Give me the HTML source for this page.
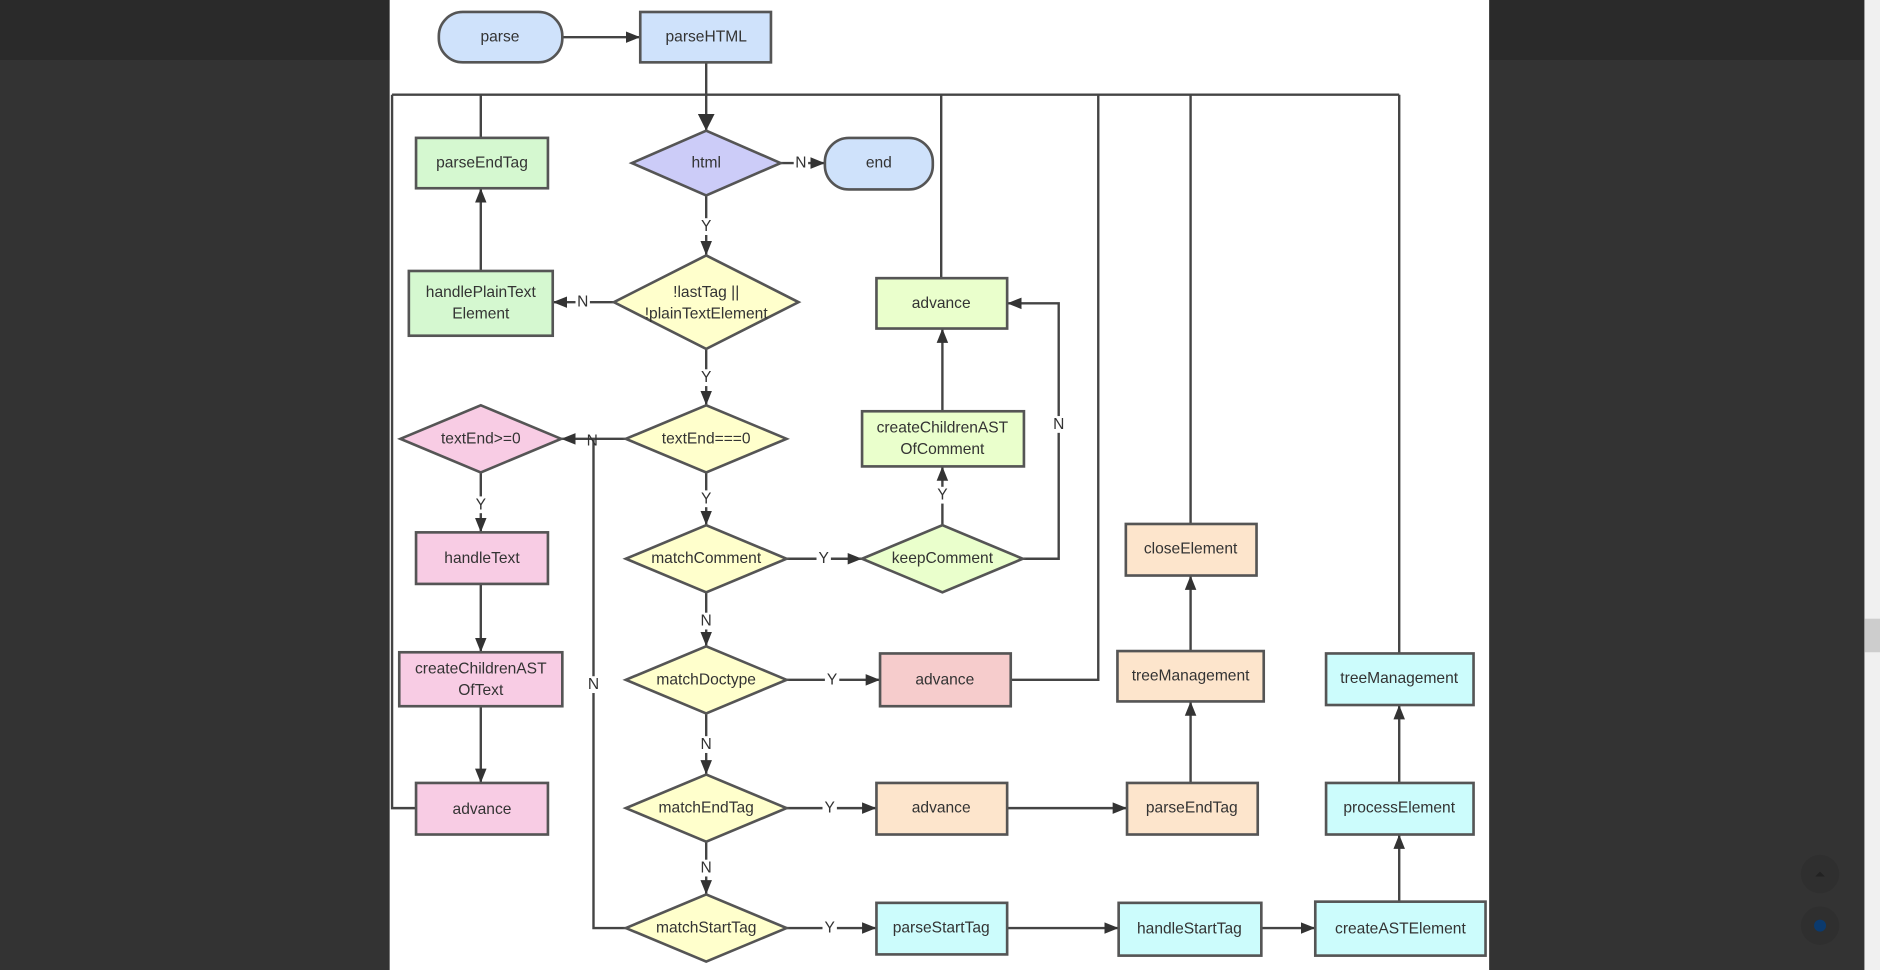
<!DOCTYPE html>
<html><head><meta charset="utf-8"><style>
html,body{margin:0;padding:0;background:#333;width:1880px;height:970px;overflow:hidden}
svg{display:block}
text{font-family:"Liberation Sans",Arial,sans-serif;font-size:13px;fill:#333;text-anchor:middle;dominant-baseline:central}
.n{stroke:#555;stroke-width:2.2}
.l{stroke:#444;stroke-width:2;fill:none}
</style></head><body>
<svg width="1880" height="970" viewBox="0 0 1568 809" preserveAspectRatio="none">
<defs><marker id="a" viewBox="0 0 10 10" refX="10" refY="5" markerWidth="12" markerHeight="12" markerUnits="userSpaceOnUse" orient="auto"><path d="M0,1L10,5L0,9z" fill="#333"/></marker>
<marker id="b" viewBox="0 0 10 10" refX="10" refY="5" markerWidth="14" markerHeight="14" markerUnits="userSpaceOnUse" orient="auto"><path d="M0,0L10,5L0,10z" fill="#333"/></marker></defs>
<rect x="0" y="0" width="1568" height="809" fill="#333"/>
<rect x="0" y="0" width="325" height="50" fill="#2a2a2a"/>
<rect x="1242" y="0" width="313" height="50" fill="#2a2a2a"/>
<rect x="1555" y="0" width="13" height="809" fill="#f0f0f0"/>
<rect x="1555" y="516" width="13" height="28" fill="#cdcdcd"/>
<circle cx="1518" cy="729" r="16" fill="#2f2f2f"/><path d="M1514,731l4,-4l4,4z" fill="#222"/>
<circle cx="1518" cy="772" r="16" fill="#2f2f2f"/><circle cx="1518" cy="772" r="5" fill="#0b3a6e"/>
<rect x="325" y="0" width="917" height="809" fill="#fff"/>

<g class="l">
<path d="M469,31H534" marker-end="url(#a)"/>
<path d="M589,52V109" marker-end="url(#b)"/>
<path d="M327,79H1167"/>
<path d="M401,115V79"/>
<path d="M785,232V79"/>
<path d="M843,567H916V79"/>
<path d="M993,437V79"/>
<path d="M1167,545V79"/>
<path d="M347,674H327V79"/>
<path d="M651,136H688" marker-end="url(#a)"/>
<path d="M589,163V213" marker-end="url(#a)"/>
<path d="M512,252H461" marker-end="url(#a)"/>
<path d="M401,226V157" marker-end="url(#a)"/>
<path d="M589,291V338" marker-end="url(#a)"/>
<path d="M522,366H468" marker-end="url(#a)"/>
<path d="M522,774H495V366"/>
<path d="M401,394V444" marker-end="url(#a)"/>
<path d="M401,487V544" marker-end="url(#a)"/>
<path d="M401,589V653" marker-end="url(#a)"/>
<path d="M589,394V438" marker-end="url(#a)"/>
<path d="M656,466H719" marker-end="url(#a)"/>
<path d="M786,438V389" marker-end="url(#a)"/>
<path d="M786,343V274" marker-end="url(#a)"/>
<path d="M853,466H883V253H840" marker-end="url(#a)"/>
<path d="M589,494V539" marker-end="url(#a)"/>
<path d="M656,567H734" marker-end="url(#a)"/>
<path d="M589,595V646" marker-end="url(#a)"/>
<path d="M656,674H731" marker-end="url(#a)"/>
<path d="M840,674H940" marker-end="url(#a)"/>
<path d="M993,653V585" marker-end="url(#a)"/>
<path d="M993,543V480" marker-end="url(#a)"/>
<path d="M589,702V746" marker-end="url(#a)"/>
<path d="M656,774H731" marker-end="url(#a)"/>
<path d="M840,774H933" marker-end="url(#a)"/>
<path d="M1052,774H1097" marker-end="url(#a)"/>
<path d="M1167,752V696" marker-end="url(#a)"/>
<path d="M1167,653V588" marker-end="url(#a)"/>
</g>
<g>
<rect x="662" y="129" width="12" height="14" fill="#fff"/><text x="668" y="136">N</text>
<rect x="583" y="182" width="12" height="14" fill="#fff"/><text x="589" y="189">Y</text>
<rect x="480" y="245" width="12" height="14" fill="#fff"/><text x="486" y="252">N</text>
<rect x="583" y="308" width="12" height="14" fill="#fff"/><text x="589" y="315">Y</text>
<text x="494" y="368">N</text>
<rect x="395" y="414" width="12" height="14" fill="#fff"/><text x="401" y="421">Y</text>
<rect x="583" y="409" width="12" height="14" fill="#fff"/><text x="589" y="416">Y</text>
<rect x="681" y="459" width="12" height="14" fill="#fff"/><text x="687" y="466">Y</text>
<rect x="780" y="406" width="12" height="14" fill="#fff"/><text x="786" y="413">Y</text>
<rect x="877" y="347" width="12" height="14" fill="#fff"/><text x="883" y="354">N</text>
<rect x="583" y="511" width="12" height="14" fill="#fff"/><text x="589" y="518">N</text>
<rect x="688" y="560" width="12" height="14" fill="#fff"/><text x="694" y="567">Y</text>
<rect x="489" y="564" width="12" height="14" fill="#fff"/><text x="495" y="571">N</text>
<rect x="583" y="614" width="12" height="14" fill="#fff"/><text x="589" y="621">N</text>
<rect x="686" y="667" width="12" height="14" fill="#fff"/><text x="692" y="674">Y</text>
<rect x="583" y="717" width="12" height="14" fill="#fff"/><text x="589" y="724">N</text>
<rect x="686" y="767" width="12" height="14" fill="#fff"/><text x="692" y="774">Y</text>
</g>
<g class="n">
<rect x="366" y="10" width="103" height="42" rx="20" fill="#cfe2fb"/>
<rect x="534" y="10" width="109" height="42" fill="#cfe2fb"/>
<path d="M527,136L589,109L651,136L589,163z" fill="#ccccf8"/>
<rect x="688" y="115" width="90" height="43" rx="20" fill="#cfe2fb"/>
<rect x="347" y="115" width="110" height="42" fill="#d5f8d0"/>
<rect x="341" y="226" width="120" height="54" fill="#d5f8d0"/>
<path d="M512,252L589,213L666,252L589,291z" fill="#ffffcc"/>
<path d="M522,366L589,338L656,366L589,394z" fill="#ffffcc"/>
<path d="M334,366L401,338L468,366L401,394z" fill="#f8cce4"/>
<rect x="347" y="444" width="110" height="43" fill="#f8cce4"/>
<rect x="333" y="544" width="136" height="45" fill="#f8cce4"/>
<rect x="347" y="653" width="110" height="43" fill="#f8cce4"/>
<path d="M522,466L589,438L656,466L589,494z" fill="#ffffcc"/>
<path d="M719,466L786,438L853,466L786,494z" fill="#eaffcc"/>
<rect x="719" y="343" width="135" height="46" fill="#eaffcc"/>
<rect x="731" y="232" width="109" height="42" fill="#eaffcc"/>
<path d="M522,567L589,539L656,567L589,595z" fill="#ffffcc"/>
<rect x="734" y="545" width="109" height="44" fill="#f6cccc"/>
<path d="M522,674L589,646L656,674L589,702z" fill="#ffffcc"/>
<rect x="731" y="653" width="109" height="43" fill="#fde5cc"/>
<rect x="940" y="653" width="109" height="43" fill="#fde5cc"/>
<rect x="932" y="543" width="122" height="42" fill="#fde5cc"/>
<rect x="939" y="437" width="109" height="43" fill="#fde5cc"/>
<path d="M522,774L589,746L656,774L589,802z" fill="#ffffcc"/>
<rect x="731" y="753" width="109" height="43" fill="#ccfcfc"/>
<rect x="933" y="753" width="119" height="44" fill="#ccfcfc"/>
<rect x="1097" y="752" width="142" height="45" fill="#ccfcfc"/>
<rect x="1106" y="653" width="123" height="43" fill="#ccfcfc"/>
<rect x="1106" y="545" width="123" height="43" fill="#ccfcfc"/>
</g>
<g>
<text x="417" y="31">parse</text>
<text x="589" y="31">parseHTML</text>
<text x="589" y="136">html</text>
<text x="733" y="136">end</text>
<text x="402" y="136">parseEndTag</text>
<text x="401" y="244">handlePlainText</text>
<text x="401" y="262">Element</text>
<text x="589" y="244">!lastTag ||</text>
<text x="589" y="262">!plainTextElement</text>
<text x="589" y="366">textEnd===0</text>
<text x="401" y="366">textEnd&gt;=0</text>
<text x="402" y="466">handleText</text>
<text x="401" y="558">createChildrenAST</text>
<text x="401" y="576">OfText</text>
<text x="402" y="675">advance</text>
<text x="589" y="466">matchComment</text>
<text x="786" y="466">keepComment</text>
<text x="786" y="357">createChildrenAST</text>
<text x="786" y="375">OfComment</text>
<text x="785" y="253">advance</text>
<text x="589" y="567">matchDoctype</text>
<text x="788" y="567">advance</text>
<text x="589" y="674">matchEndTag</text>
<text x="785" y="674">advance</text>
<text x="994" y="674">parseEndTag</text>
<text x="993" y="564">treeManagement</text>
<text x="993" y="458">closeElement</text>
<text x="589" y="774">matchStartTag</text>
<text x="785" y="774">parseStartTag</text>
<text x="992" y="775">handleStartTag</text>
<text x="1168" y="775">createASTElement</text>
<text x="1167" y="674">processElement</text>
<text x="1167" y="566">treeManagement</text>
</g>
</svg>
</body></html>
